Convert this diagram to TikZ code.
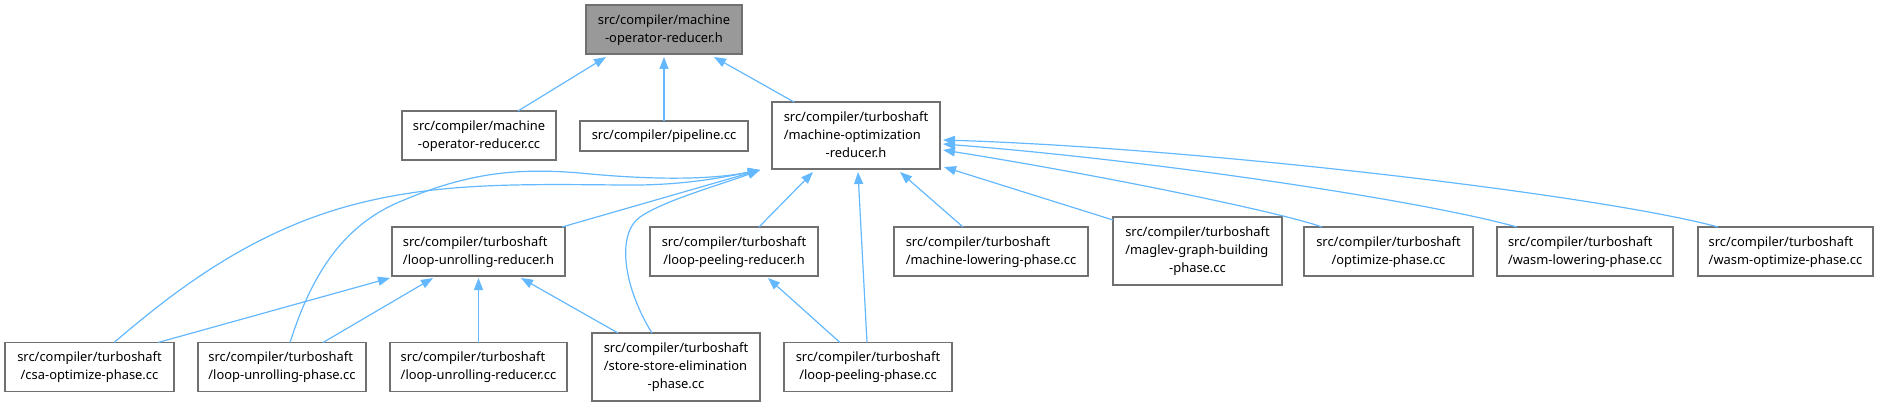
\documentclass[tikz,border=0pt]{standalone}
\usepackage{fontspec}
\setmainfont{Noto Sans}
\usetikzlibrary{arrows.meta}
\definecolor{edgeblue}{HTML}{63B8FF}
\definecolor{boxline}{HTML}{707070}
\definecolor{rootfill}{HTML}{999999}
\newcommand{\twol}[2]{\begin{tabular}{@{}l@{}}#1\\\multicolumn{1}{@{}c@{}}{#2}\end{tabular}}
\newcommand{\threel}[3]{\begin{tabular}{@{}l@{}}#1\\#2\\\multicolumn{1}{@{}c@{}}{#3}\end{tabular}}
\tikzset{
  box/.style={draw=boxline, line width=1.3pt, fill=white, rectangle, inner sep=0pt, outer sep=0pt,
    font=\fontsize{12.9}{18}\selectfont, text=black, align=center},
  rootbox/.style={box, fill=rootfill},
  edge/.style={draw=edgeblue, line width=1.2pt, -{Triangle[length=12pt,width=9pt]}},
}
\begin{document}
\begin{tikzpicture}[x=1pt,y=-1pt]
\useasboundingbox (0,0) rectangle (1877,406);
% row 1
\node[rootbox, minimum width=156pt, minimum height=49pt] (root) at (664,29.5) {\twol{src/compiler/machine}{-operator-reducer.h}};
% row 2
\node[box, minimum width=154pt, minimum height=49pt] (morcc) at (479,135.5) {\twol{src/compiler/machine}{-operator-reducer.cc}};
\node[box, minimum width=168pt, minimum height=30pt] (pipe) at (664,136) {src/compiler/pipeline.cc};
\node[box, minimum width=168pt, minimum height=67pt] (mo) at (856,135.5) {\threel{src/compiler/turboshaft}{/machine-optimization}{-reducer.h}};
% row 3
\node[box, minimum width=173pt, minimum height=49pt] (lur) at (478.5,251.5) {\twol{src/compiler/turboshaft}{/loop-unrolling-reducer.h}};
\node[box, minimum width=168pt, minimum height=49pt] (lpr) at (734,251.5) {\twol{src/compiler/turboshaft}{/loop-peeling-reducer.h}};
\node[box, minimum width=194pt, minimum height=49pt] (mlp) at (991,251.5) {\twol{src/compiler/turboshaft}{/machine-lowering-phase.cc}};
\node[box, minimum width=169pt, minimum height=68pt] (mag) at (1197.5,251) {\threel{src/compiler/turboshaft}{/maglev-graph-building}{-phase.cc}};
\node[box, minimum width=169pt, minimum height=49pt] (opt) at (1388.5,251.5) {\twol{src/compiler/turboshaft}{/optimize-phase.cc}};
\node[box, minimum width=176pt, minimum height=49pt] (wl) at (1585,251.5) {\twol{src/compiler/turboshaft}{/wasm-lowering-phase.cc}};
\node[box, minimum width=175pt, minimum height=49pt] (wo) at (1785.5,251.5) {\twol{src/compiler/turboshaft}{/wasm-optimize-phase.cc}};
% row 4
\node[box, minimum width=169pt, minimum height=49pt] (csa) at (89.5,367) {\twol{src/compiler/turboshaft}{/csa-optimize-phase.cc}};
\node[box, minimum width=168pt, minimum height=49pt] (lup) at (282,367) {\twol{src/compiler/turboshaft}{/loop-unrolling-phase.cc}};
\node[box, minimum width=177pt, minimum height=49pt] (lurcc) at (478.5,367) {\twol{src/compiler/turboshaft}{/loop-unrolling-reducer.cc}};
\node[box, minimum width=168pt, minimum height=68pt] (sse) at (676,367) {\threel{src/compiler/turboshaft}{/store-store-elimination}{-phase.cc}};
\node[box, minimum width=168pt, minimum height=49pt] (lpp) at (868,367) {\twol{src/compiler/turboshaft}{/loop-peeling-phase.cc}};
% edges to root
\draw[edge] ([xshift=39pt]morcc.north) -- ([xshift=-58pt,yshift=-3pt]root.south);
\draw[edge] (pipe.north) -- ([yshift=-3pt]root.south);
\draw[edge] ([xshift=-62pt]mo.north) -- ([xshift=50pt,yshift=-3pt]root.south);
% edges to mo (left side)
\draw[edge] ([xshift=24.5pt]csa.north) .. controls (170,295) and (250,230) .. (360,203)
  .. controls (440,183) and (520,184) .. (620,185)
  .. controls (680,186) and (720,178) .. ([xshift=-12pt,yshift=-1pt]mo.south west);
\draw[edge] ([xshift=8pt]lup.north) .. controls (310,280) and (340,225) .. (404,200)
  .. controls (470,172) and (520,168) .. (580,173)
  .. controls (650,180) and (710,180) .. ([xshift=-12pt,yshift=-1pt]mo.south west);
\draw[edge] ([xshift=-3pt]lur.north east) -- ([xshift=-12pt,yshift=-1pt]mo.south west);
\draw[edge] ([xshift=-24pt]sse.north) .. controls (625,290) and (615,235) .. (640,217)
  .. controls (665,200) and (720,185) .. ([xshift=-12pt,yshift=-1pt]mo.south west);
% edges to mo (below)
\draw[edge] ([xshift=25pt]lpr.north) -- ([xshift=-43pt,yshift=-3pt]mo.south);
\draw[edge] ([xshift=-1pt]lpp.north) -- ([xshift=2pt,yshift=-3pt]mo.south);
\draw[edge] ([xshift=-28pt]mlp.north) -- ([xshift=44pt,yshift=-3pt]mo.south);
% edges to mo (right side)
\draw[edge] ([yshift=-3pt]mag.north west) -- ([xshift=4pt,yshift=2pt]mo.south east);
\draw[edge] ([xshift=-66.5pt]opt.north) .. controls (1280,212) and (1100,175) .. ([xshift=3pt,yshift=-14.5pt]mo.east);
\draw[edge] ([xshift=-68pt]wl.north) .. controls (1420,200) and (1150,160) .. ([xshift=3pt,yshift=-8.5pt]mo.east);
\draw[edge] ([xshift=-67.5pt]wo.north) .. controls (1600,195) and (1200,148) .. ([xshift=3pt,yshift=-4.5pt]mo.east);
% edges to lur
\draw[edge] ([xshift=68.5pt]csa.north) -- ([xshift=-2pt,yshift=-2pt]lur.south west);
\draw[edge] ([xshift=41pt]lup.north) -- ([xshift=-45.5pt,yshift=-2pt]lur.south);
\draw[edge] (lurcc.north) -- ([yshift=-2pt]lur.south);
\draw[edge] ([xshift=-58pt]sse.north) -- ([xshift=42.5pt,yshift=-2pt]lur.south);
% edge to lpr
\draw[edge] ([xshift=-28pt]lpp.north) -- ([xshift=34pt,yshift=-2pt]lpr.south);
\end{tikzpicture}
\end{document}
